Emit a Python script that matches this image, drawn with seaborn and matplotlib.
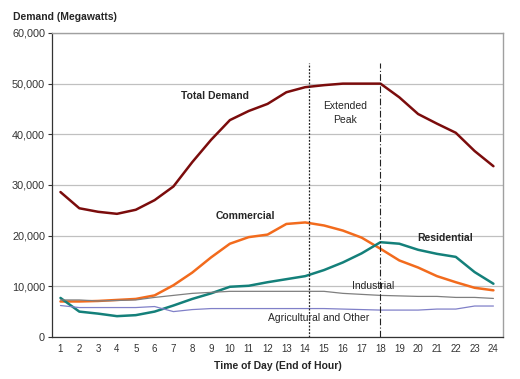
import matplotlib

matplotlib.use("Agg")
import matplotlib.pyplot as plt
import pandas as pd
import seaborn as sns
from matplotlib.ticker import FuncFormatter

# ----------------------------------------------------------------------
# Data (MW by hour)
# ----------------------------------------------------------------------
hours = list(range(1, 25))
total_demand = [28600, 25400, 24700, 24300, 25100, 27000, 29700, 34500, 38900, 42800,
                44600, 46000, 48300, 49300, 49700, 50000, 50000, 50000, 47300, 44000,
                42100, 40300, 36700, 33700]
commercial = [7000, 7000, 7100, 7300, 7500, 8200, 10200, 12700, 15700, 18400,
              19700, 20200, 22300, 22600, 22000, 21000, 19600, 17400, 15100, 13700,
              12000, 10800, 9700, 9200]
residential = [7700, 5000, 4600, 4100, 4300, 5000, 6200, 7500, 8600, 9900,
               10100, 10800, 11400, 12000, 13200, 14700, 16500, 18700, 18400, 17200,
               16400, 15800, 12800, 10500]
industrial = [7300, 7300, 7100, 7200, 7300, 7800, 8200, 8600, 8800, 9000,
              9000, 9000, 9000, 9000, 9000, 8600, 8400, 8200, 8100, 8000,
              8000, 7800, 7800, 7600]
agricultural = [6200, 5800, 5800, 5800, 5800, 6000, 5000, 5400, 5600, 5600,
                5600, 5600, 5600, 5600, 5600, 5500, 5400, 5300, 5300, 5300,
                5500, 5500, 6100, 6100]

series_names = ["Total Demand", "Commercial", "Residential", "Industrial", "Agricultural and Other"]
series_colors = ["#7b0c0c", "#f26b1d", "#14807a", "#7f7f7f", "#8080c8"]
series_widths = [1.8, 1.8, 1.8, 0.9, 0.9]

peak_start = 14.2
peak_end = 18.0
yticks = [0, 10000, 20000, 30000, 40000, 50000, 60000]

df = pd.DataFrame({
    "hour": hours * 5,
    "series": sum([[n] * 24 for n in series_names], []),
    "mw": total_demand + commercial + residential + industrial + agricultural,
})

sns.set_theme(style="white")
plt.rcParams["font.family"] = ["Liberation Sans", "DejaVu Sans"]

fig = plt.figure(figsize=(5.2, 3.79), dpi=100)
ax = fig.add_axes([0.1, 0.111, 0.867, 0.802])

for name, color, lw in zip(series_names, series_colors, series_widths):
    sns.lineplot(data=df[df["series"] == name], x="hour", y="mw", color=color,
                 linewidth=lw, ax=ax, legend=False)

ax.vlines(peak_start, 0, 54000, color="#222222", linestyle=(0, (1.5, 1.2)), linewidth=0.9)
ax.vlines(peak_end, 0, 54000, color="#222222", linestyle=(0, (6, 2, 1, 2)), linewidth=0.8)

ax.set_xlim(0.55, 24.5)
ax.set_ylim(0, 60000)
ax.set_xticks(hours)
ax.set_yticks(yticks)
ax.yaxis.set_major_formatter(FuncFormatter(lambda v, _: f"{int(v):,}"))
ax.yaxis.grid(True, color="#c0c0c0", linewidth=0.9)
ax.set_axisbelow(True)
ax.tick_params(axis="y", labelsize=7.8, labelcolor="#333333", left=True, length=3,
               width=0.8, color="#333333", pad=2)
ax.tick_params(axis="x", labelsize=7, labelcolor="#333333", bottom=False, length=0, pad=5)
for side in ("top", "right"):
    ax.spines[side].set_color("#a0a0a0")
    ax.spines[side].set_linewidth(1.0)
for side in ("left", "bottom"):
    ax.spines[side].set_color("#333333")
    ax.spines[side].set_linewidth(0.9)

ax.set_xlabel("Time of Day (End of Hour)", fontsize=7.5, fontweight="bold", labelpad=5)
ax.set_ylabel("")
fig.text(0.025, 0.955, "Demand (Megawatts)", fontsize=7.5, fontweight="bold", va="center")

ax.text(9.2, 47600, "Total Demand", fontsize=7.5, fontweight="bold", ha="center", va="center")
ax.text(16.1, 44200, "Extended\nPeak", fontsize=7.5, ha="center", va="center", linespacing=1.4)
ax.text(10.8, 23900, "Commercial", fontsize=7.5, fontweight="bold", ha="center", va="center")
ax.text(21.45, 19500, "Residential", fontsize=7.5, fontweight="bold", ha="center", va="center")
ax.text(17.6, 10050, "Industrial", fontsize=7.5, ha="center", va="center")
ax.text(14.7, 3750, "Agricultural and Other", fontsize=7.5, ha="center", va="center")

fig.savefig("out.png", dpi=100)
